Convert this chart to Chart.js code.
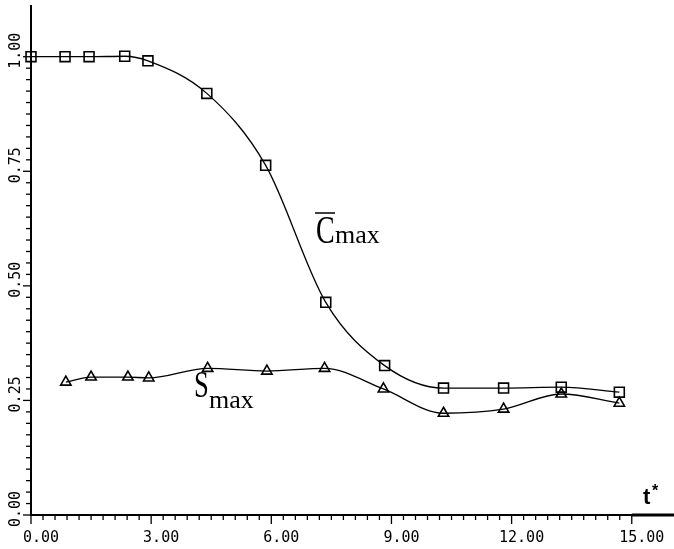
<!DOCTYPE html>
<html>
<head>
<meta charset="utf-8">
<script src="https://cdn.jsdelivr.net/npm/chart.js@4"></script>
<style>
  body { margin: 0; background: #fff; }
  canvas { display: block; }
</style>
</head>
<body>
<canvas id="chart" width="674" height="549"></canvas>
<script>
// mean concentration maximum (squares)
const cTime = [0, 0.85, 1.45, 2.34, 2.92, 4.39, 5.86, 7.36, 8.83, 10.3, 11.8, 13.24, 14.69];
const cMax = [1.0, 1.0, 1.0, 1.001, 0.991, 0.92, 0.763, 0.464, 0.326, 0.277, 0.277, 0.279, 0.268];

// S maximum (triangles)
const sTime = [0.87, 1.5, 2.42, 2.94, 4.41, 5.89, 7.33, 8.8, 10.3, 11.8, 13.24, 14.69];
const sMax = [0.29, 0.301, 0.301, 0.299, 0.32, 0.314, 0.32, 0.275, 0.222, 0.231, 0.264, 0.244];

// tick labels
const xTickValues = [0, 3, 6, 9, 12, 15];
const xTickLabels = ['0.00', '3.00', '6.00', '9.00', '12.00', '15.00'];
const yTickValues = [0, 0.25, 0.5, 0.75, 1.0];
const yTickLabels = ['0.00', '0.25', '0.50', '0.75', '1.00'];

function toPoints(xs, ys) {
    return xs.map((x, i) => ({ x: x, y: ys[i] }));
}

/**
 * Draws plotter-style tick marks, rotated y labels and the curve names
 */
const axisDecor = {
    id: 'axisDecor',
    afterDraw(chart) {
        const ctx = chart.ctx;
        const xs = chart.scales.x;
        const ys = chart.scales.y;
        const x0 = xs.getPixelForValue(0);
        const y0 = ys.getPixelForValue(0);

        ctx.save();
        ctx.strokeStyle = '#000';
        ctx.fillStyle = '#000';

        // let the axis lines run to the edges of the picture
        ctx.lineWidth = 2;
        ctx.beginPath();
        ctx.moveTo(x0, ys.top);
        ctx.lineTo(x0, 5);
        ctx.stroke();
        ctx.lineWidth = 3;
        ctx.beginPath();
        ctx.moveTo(xs.getPixelForValue(15), y0);
        ctx.lineTo(chart.width, y0);
        ctx.stroke();

        // x ticks, minor every 0.3, major every 3
        ctx.lineWidth = 1.3;
        for (let i = 0; i <= 50; i++) {
            const px = xs.getPixelForValue(i * 0.3);
            const len = i % 10 === 0 ? 9 : 5;
            ctx.beginPath();
            ctx.moveTo(px, y0);
            ctx.lineTo(px, y0 + len);
            ctx.stroke();
        }

        // y ticks, minor every 0.025, major every 0.25
        for (let i = 0; i <= 40; i++) {
            const py = ys.getPixelForValue(i * 0.025);
            const len = i % 10 === 0 ? 8 : 5;
            ctx.beginPath();
            ctx.moveTo(x0, py);
            ctx.lineTo(x0 - len, py);
            ctx.stroke();
        }

        // tick labels
        ctx.font = '15px "DejaVu Sans Mono"';
        ctx.textAlign = 'center';
        ctx.textBaseline = 'top';
        xTickValues.forEach((v, i) => {
            ctx.fillText(xTickLabels[i], xs.getPixelForValue(v) + 10, y0 + 16);
        });

        ctx.textAlign = 'left';
        ctx.textBaseline = 'middle';
        yTickValues.forEach((v, i) => {
            ctx.save();
            ctx.translate(16, ys.getPixelForValue(v) + 12);
            ctx.rotate(-Math.PI / 2);
            ctx.fillText(yTickLabels[i], 0, 0);
            ctx.restore();
        });

        // curve names
        ctx.textBaseline = 'alphabetic';
        ctx.save();
        ctx.translate(316, 243);
        ctx.scale(0.7, 1);
        ctx.font = '40px "Liberation Serif"';
        ctx.fillText('C', 0, 0);
        ctx.restore();
        ctx.lineWidth = 1.5;
        ctx.beginPath();
        ctx.moveTo(315, 213);
        ctx.lineTo(335, 213);
        ctx.stroke();
        ctx.font = '26px "Liberation Serif"';
        ctx.fillText('max', 335, 243);

        ctx.save();
        ctx.translate(194, 397);
        ctx.scale(0.7, 1);
        ctx.font = '38px "Liberation Serif"';
        ctx.fillText('S', 0, 0);
        ctx.restore();
        ctx.font = '26px "Liberation Serif"';
        ctx.fillText('max', 209, 408);

        // axis name
        ctx.font = 'bold 22px "Liberation Sans"';
        ctx.fillText('t', 643, 504);
        ctx.font = 'bold 16px "Liberation Sans"';
        ctx.fillText('*', 652, 496);

        ctx.restore();
    }
};

new Chart(document.getElementById('chart'), {
    type: 'scatter',
    data: {
        datasets: [{
            label: 'Cmax',
            data: toPoints(cTime, cMax),
            showLine: true,
            cubicInterpolationMode: 'monotone',
            borderColor: '#000',
            borderWidth: 1.3,
            pointStyle: 'rect',
            pointRadius: 7,
            pointBorderWidth: 1.6,
            pointBackgroundColor: 'rgba(0,0,0,0)',
            pointBorderColor: '#000',
            clip: false
        }, {
            label: 'Smax',
            data: toPoints(sTime, sMax),
            showLine: true,
            cubicInterpolationMode: 'monotone',
            borderColor: '#000',
            borderWidth: 1.3,
            pointStyle: 'triangle',
            pointRadius: 6,
            pointBorderWidth: 1.6,
            pointBackgroundColor: 'rgba(0,0,0,0)',
            pointBorderColor: '#000',
            clip: false
        }]
    },
    options: {
        responsive: false,
        animation: false,
        layout: {
            padding: { left: 23, right: 0, top: 0, bottom: 26 }
        },
        plugins: {
            legend: { display: false },
            tooltip: { enabled: false }
        },
        scales: {
            x: {
                type: 'linear',
                min: 0,
                max: 15.84,
                grid: { display: false },
                ticks: { display: false },
                border: { display: true, color: '#000', width: 2 }
            },
            y: {
                type: 'linear',
                min: 0,
                max: 1.105,
                grid: { display: false },
                ticks: { display: false },
                border: { display: true, color: '#000', width: 2 }
            }
        }
    },
    plugins: [axisDecor]
});
</script>
</body>
</html>
